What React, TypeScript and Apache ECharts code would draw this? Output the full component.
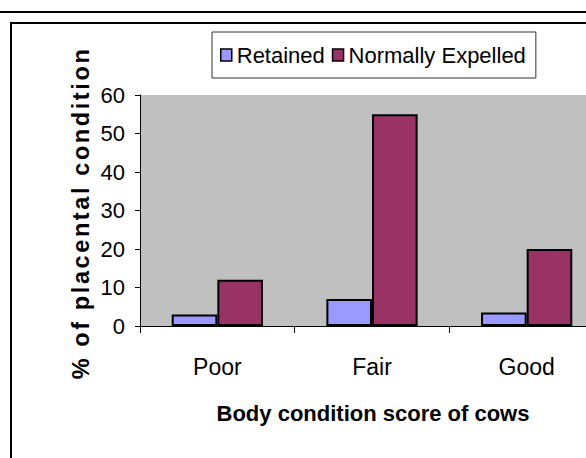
import React, { useEffect, useRef } from "react";
import * as echarts from "echarts";

const categories = ["Poor", "Fair", "Good"];
const retained = [3, 7, 3.5];
const normallyExpelled = [12, 55, 20];
const yTicks = { min: 0, max: 60, interval: 10 };

const SANS = "Liberation Sans, Arial, sans-serif";

export default function App() {
  const ref = useRef<HTMLDivElement>(null);
  useEffect(() => {
    if (!ref.current) return;
    const chart = echarts.init(ref.current, undefined, { renderer: "svg" });
    chart.setOption({
      animation: false,
      backgroundColor: "#ffffff",
      legend: {
        left: 212,
        top: 32,
        padding: [12, 10, 12, 8],
        itemWidth: 11,
        itemHeight: 12,
        itemGap: 7,
        icon: "rect",
        backgroundColor: "#ffffff",
        borderColor: "#333333",
        borderWidth: 1,
        textStyle: { fontFamily: SANS, fontSize: 22, color: "#000" },
        data: [
          { name: "Retained", itemStyle: { borderColor: "#000", borderWidth: 1.5 } },
          { name: "Normally Expelled", itemStyle: { borderColor: "#000", borderWidth: 1.5 } },
        ],
      },
      grid: {
        left: 140,
        top: 95,
        bottom: 132,
        width: 464,
        outerBoundsMode: "none",
        show: true,
        backgroundColor: "#c0c0c0",
        borderWidth: 0,
        containLabel: false,
      },
      xAxis: {
        type: "category",
        data: categories,
        axisLine: { lineStyle: { color: "#000", width: 1 } },
        axisTick: { show: true, length: 7, lineStyle: { color: "#000" } },
        axisLabel: { fontFamily: SANS, fontSize: 23, color: "#000", margin: 29 },
      },
      yAxis: {
        type: "value",
        min: yTicks.min,
        max: yTicks.max,
        interval: yTicks.interval,
        splitLine: { show: false },
        axisLine: { show: true, lineStyle: { color: "#000", width: 1 } },
        axisTick: { show: true, length: 5, lineStyle: { color: "#000" } },
        axisLabel: { fontFamily: SANS, fontSize: 22, color: "#000", margin: 15 },
      },
      series: [
        {
          name: "Retained",
          type: "bar",
          data: retained,
          barGap: "0%",
          barCategoryGap: "41%",
          itemStyle: { color: "#9999ff", borderColor: "#000", borderWidth: 2 },
        },
        {
          name: "Normally Expelled",
          type: "bar",
          data: normallyExpelled,
          barGap: "0%",
          barCategoryGap: "41%",
          itemStyle: { color: "#993366", borderColor: "#000", borderWidth: 2 },
        },
      ],
      graphic: [
        {
          type: "line",
          shape: { x1: 0, y1: 12, x2: 586, y2: 12 },
          style: { stroke: "#000", lineWidth: 2 },
          z: 100,
        },
        {
          type: "rect",
          shape: { x: 11, y: 23, width: 600, height: 500 },
          style: { fill: "none", stroke: "#000", lineWidth: 2 },
          z: 100,
        },
        {
          type: "text",
          x: 81,
          y: 213,
          rotation: Math.PI / 2,
          style: {
            text: "% of placental condition",
            fontFamily: SANS,
            fontWeight: "bold",
            fontSize: 23.5,
            fill: "#000",
            align: "center",
            verticalAlign: "middle",
          },
        },
        {
          type: "text",
          x: 373,
          y: 413,
          style: {
            text: "Body condition score of cows",
            fontFamily: SANS,
            fontWeight: "bold",
            fontSize: 22,
            fill: "#000",
            align: "center",
            verticalAlign: "middle",
          },
        },
      ],
    });
    return () => chart.dispose();
  }, []);
  return (
    <>
      <style>{`text[style*="23.5px"] { letter-spacing: 2.6px; }`}</style>
      <div ref={ref} style={{ width: 586, height: 458, position: "absolute", left: 0, top: 0 }} />
    </>
  );
}
